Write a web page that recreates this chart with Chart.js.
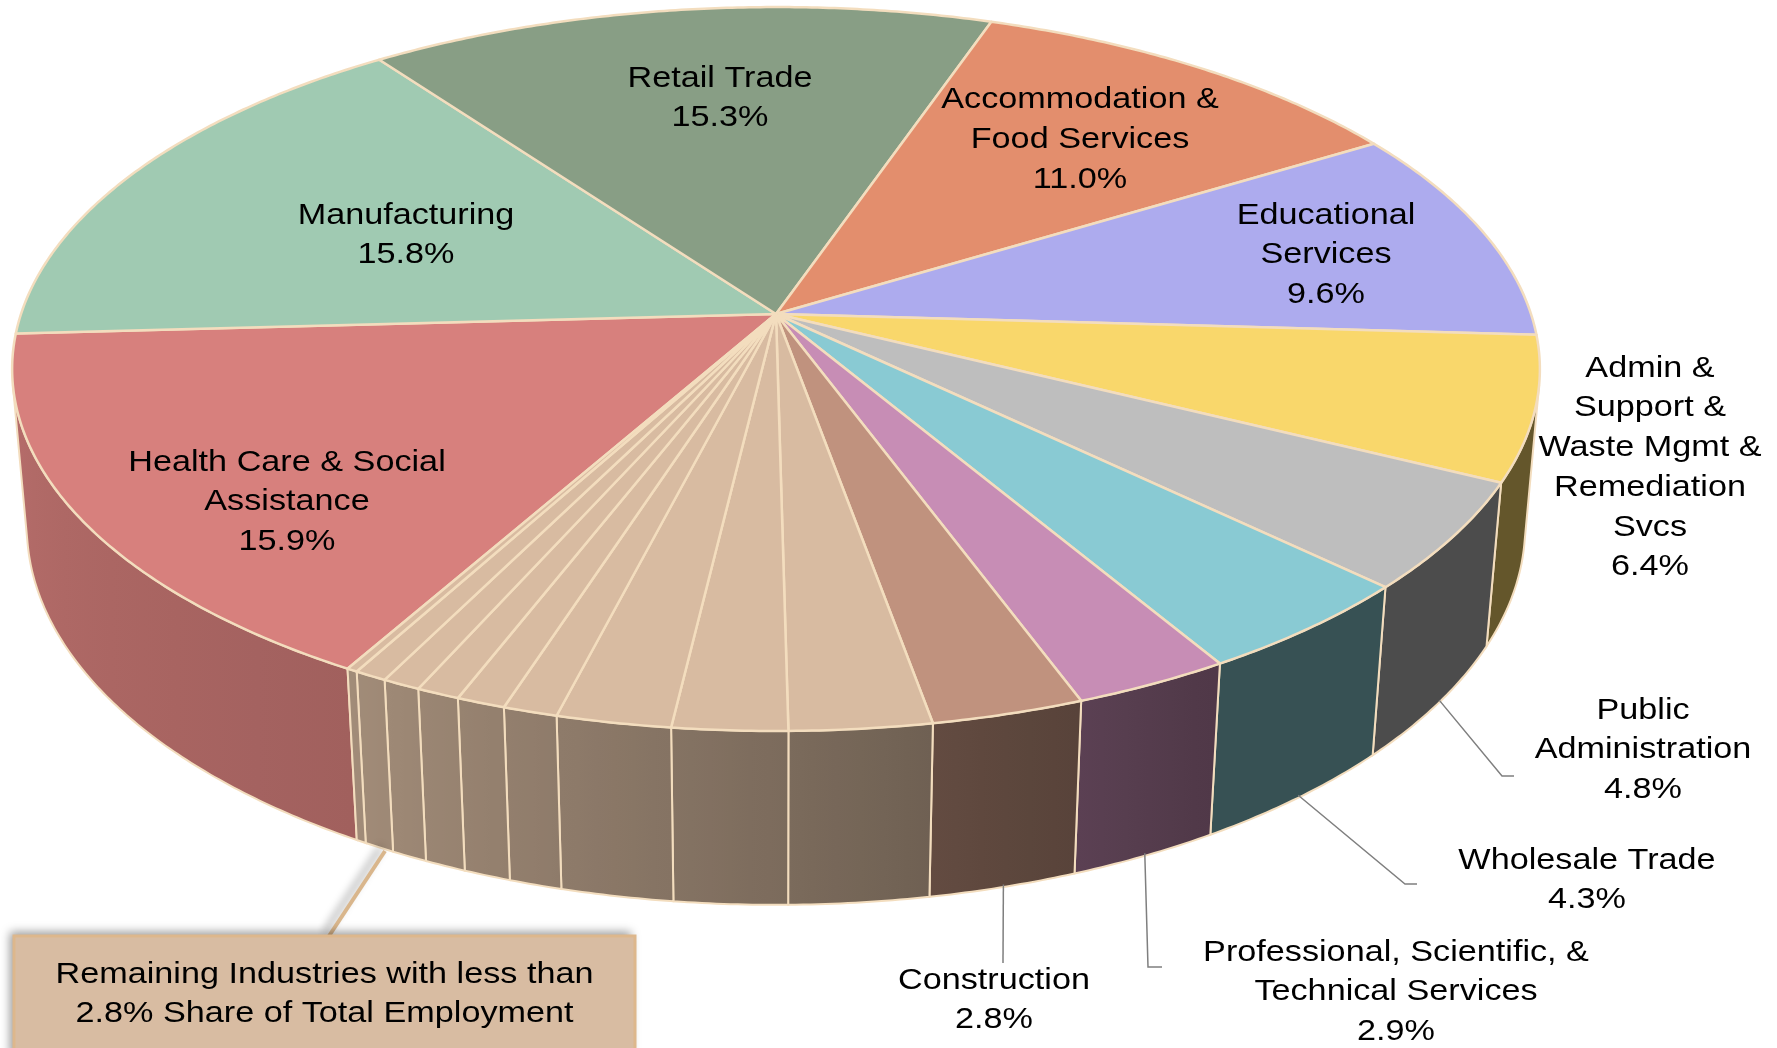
<!DOCTYPE html>
<html>
<head>
<meta charset="utf-8">
<title>Share of Total Employment by Industry</title>
<script src="https://cdn.jsdelivr.net/npm/chart.js@4.4.1/dist/chart.umd.min.js"></script>
<style>
  html, body { margin: 0; padding: 0; background: #ffffff; }
  #chart { display: block; }
</style>
</head>
<body>
<canvas id="chart" width="1777" height="1048"></canvas>
<script>
// Industries in drawing order (clockwise), share of total employment in %
const industries = [
    'Health Care & Social Assistance', 'Manufacturing', 'Retail Trade',
    'Accommodation & Food Services', 'Educational Services',
    'Admin & Support & Waste Mgmt & Remediation Svcs', 'Public Administration',
    'Wholesale Trade', 'Professional, Scientific, & Technical Services', 'Construction',
    'Other industry 1', 'Other industry 2', 'Other industry 3', 'Other industry 4',
    'Other industry 5', 'Other industry 6', 'Other industry 7', 'Other industry 8',
    'Other industry 9'
];
const shares = [15.9, 15.8, 15.3, 11.0, 9.6, 6.4, 4.8, 4.3, 2.9, 2.8,
    2.6, 2.1, 2.1, 1.0, 0.9, 0.8, 0.7, 0.6, 0.2];

// how the data labels are broken into lines (null = no label)
const labelLines = [
    ['Health Care & Social', 'Assistance'],
    ['Manufacturing'],
    ['Retail Trade'],
    ['Accommodation &', 'Food Services'],
    ['Educational', 'Services'],
    ['Admin &', 'Support &', 'Waste Mgmt &', 'Remediation', 'Svcs'],
    ['Public', 'Administration'],
    ['Wholesale Trade'],
    ['Professional, Scientific, &', 'Technical Services'],
    ['Construction'],
    null, null, null, null, null, null, null, null, null
];
const noteLines = ['Remaining Industries with less than', '2.8% Share of Total Employment'];

const sliceColors = ['#D7807D', '#A0CAB2', '#889E85', '#E38E6D', '#ADABEE', '#F9D76B',
    '#BEBEBE', '#89CAD3', '#C78DB5', '#C0927E',
    '#D8BBA1', '#D8BBA1', '#D8BBA1', '#D8BBA1', '#D8BBA1', '#D8BBA1', '#D8BBA1', '#D8BBA1', '#D8BBA1'];

// ---- layout / style ----
const view = { rx: 755, ry: 353.6, persp: 0.152, thick: 0.238 };
const SIN_A = view.ry / view.rx;
const COS_A = Math.sqrt(1 - SIN_A * SIN_A);
const TILT_K = view.persp * SIN_A / COS_A;
const VIS_FROM = Math.asin(view.persp / (COS_A * COS_A)); // side silhouette
const VIS_TO = Math.PI - VIS_FROM;
const STEP = Math.PI / 360;
const EDGE = '#F3DDBE';
const FONT = '30px "Liberation Sans", Arial, sans-serif';
const TEXT_STRETCH = 1.14;
const LINE_H = 39.7;

// label anchor (centre of first line), and leader line bends for outside labels
const labelPos = [
    { x: 287, y: 460 }, { x: 406, y: 213 }, { x: 720, y: 76 }, { x: 1080, y: 97.5 },
    { x: 1326, y: 213 }, { x: 1650, y: 366 }, { x: 1643, y: 708 }, { x: 1587, y: 858 },
    { x: 1396, y: 950 }, { x: 994, y: 978 }
];
const leaders = {
    6: [[1502, 776], [1514, 776]],
    7: [[1405, 884], [1417, 884]],
    8: [[1148, 967], [1162, 967]],
    9: [[1003, 963]]
};
const noteBox = { left: 14, top: 936, right: 635, bottom: 1060, textY: 972, lineFrom: [329, 936], lineTo: [385, 851] };

function project(c, ang, r, h) {
    const x = r * Math.cos(ang), z = r * Math.sin(ang);
    const den = 1 + h * TILT_K - view.persp * z;
    return {
        x: c.x + view.rx * x / den,
        y: c.y + (view.rx * COS_A * h + view.ry * z) / den
    };
}

function hexToRgb(hex) {
    const n = parseInt(hex.slice(1), 16);
    return [(n >> 16) & 255, (n >> 8) & 255, n & 255];
}

function shade(hex, f) {
    const [r, g, b] = hexToRgb(hex);
    return `rgb(${Math.round(r * f)}, ${Math.round(g * f)}, ${Math.round(b * f)})`;
}

// darker towards the right, lit from the left
function sideShade(ang) {
    let deg = (ang * 180 / Math.PI) % 360;
    if (deg < 0) deg += 360;
    if (deg < 60) return 0.40;
    if (deg < 120) return 0.40 + 0.35 * (deg - 60) / 60;
    return 0.75 + 0.11 * Math.min(1, (deg - 120) / 60);
}

function drawSide(ctx, c, a0, a1, color) {
    [-2 * Math.PI, 0, 2 * Math.PI].forEach(shift => {
        const s = Math.max(a0 + shift, VIS_FROM);
        const e = Math.min(a1 + shift, VIS_TO);
        if (e <= s) return;
        const n = Math.max(2, Math.ceil((e - s) / STEP));
        ctx.beginPath();
        for (let k = 0; k <= n; k++) {
            const p = project(c, s + (e - s) * k / n, 1, 0);
            if (k === 0) ctx.moveTo(p.x, p.y); else ctx.lineTo(p.x, p.y);
        }
        for (let k = n; k >= 0; k--) {
            const p = project(c, s + (e - s) * k / n, 1, view.thick);
            ctx.lineTo(p.x, p.y);
        }
        ctx.closePath();

        const x0 = project(c, s, 1, view.thick / 2).x;
        const x1 = project(c, e, 1, view.thick / 2).x;
        if (Math.abs(x1 - x0) < 1) {
            ctx.fillStyle = shade(color, sideShade((s + e) / 2));
        } else {
            const grad = ctx.createLinearGradient(x0, 0, x1, 0);
            for (let k = 0; k <= 6; k++) {
                const ang = s + (e - s) * k / 6;
                const px = project(c, ang, 1, view.thick / 2).x;
                const t = Math.min(1, Math.max(0, (px - x0) / (x1 - x0)));
                grad.addColorStop(t, shade(color, sideShade(ang)));
            }
            ctx.fillStyle = grad;
        }
        ctx.fill();
        ctx.strokeStyle = EDGE;
        ctx.lineWidth = 2;
        ctx.stroke();
    });
}

function drawTop(ctx, c, a0, a1, color) {
    const n = Math.max(2, Math.ceil((a1 - a0) / STEP));
    ctx.beginPath();
    ctx.moveTo(c.x, c.y);
    for (let k = 0; k <= n; k++) {
        const p = project(c, a0 + (a1 - a0) * k / n, 1, 0);
        ctx.lineTo(p.x, p.y);
    }
    ctx.closePath();
    ctx.fillStyle = color;
    ctx.fill();
    ctx.strokeStyle = EDGE;
    ctx.lineWidth = 2.5;
    ctx.lineJoin = 'round';
    ctx.stroke();
}

function drawTextLines(ctx, lines, x, y) {
    ctx.font = FONT;
    ctx.fillStyle = '#000000';
    ctx.textAlign = 'center';
    ctx.textBaseline = 'alphabetic';
    lines.forEach((line, i) => {
        ctx.save();
        ctx.translate(x, y + i * LINE_H + 10.7);
        ctx.scale(TEXT_STRETCH, 1);
        ctx.fillText(line, 0, 0);
        ctx.restore();
    });
}

const pie3d = {
    id: 'pie3d',
    beforeDatasetsDraw(chart) {
        const ctx = chart.ctx;
        const arcs = chart.getDatasetMeta(0).data;
        const c = { x: arcs[0].x, y: arcs[0].y };
        ctx.save();
        arcs.forEach((arc, i) => drawSide(ctx, c, arc.startAngle, arc.endAngle, sliceColors[i]));
        arcs.forEach((arc, i) => drawTop(ctx, c, arc.startAngle, arc.endAngle, sliceColors[i]));
        ctx.restore();
        return false;
    },
    afterDraw(chart) {
        const ctx = chart.ctx;
        const arcs = chart.getDatasetMeta(0).data;
        const c = { x: arcs[0].x, y: arcs[0].y };
        ctx.save();

        // leader lines for the labels outside the pie
        Object.keys(leaders).forEach(key => {
            const i = Number(key);
            const mid = (arcs[i].startAngle + arcs[i].endAngle) / 2;
            const start = project(c, mid, 1, view.thick * 0.985);
            ctx.beginPath();
            ctx.moveTo(start.x, start.y);
            leaders[i].forEach(p => ctx.lineTo(p[0], p[1]));
            ctx.strokeStyle = '#7F7F7F';
            ctx.lineWidth = 1.5;
            ctx.stroke();
        });

        // data labels
        labelLines.forEach((lines, i) => {
            if (!lines) return;
            const text = lines.concat([shares[i].toFixed(1) + '%']);
            drawTextLines(ctx, text, labelPos[i].x, labelPos[i].y);
        });

        // call-out for the remaining industries
        ctx.save();
        ctx.shadowColor = 'rgba(0, 0, 0, 0.4)';
        ctx.shadowBlur = 9;
        ctx.shadowOffsetX = -4;
        ctx.shadowOffsetY = -4;
        ctx.beginPath();
        ctx.moveTo(noteBox.lineFrom[0], noteBox.lineFrom[1]);
        ctx.lineTo(noteBox.lineTo[0], noteBox.lineTo[1]);
        ctx.strokeStyle = '#D9B68C';
        ctx.lineWidth = 4;
        ctx.stroke();
        ctx.fillStyle = '#D8BCA2';
        ctx.fillRect(noteBox.left, noteBox.top, noteBox.right - noteBox.left, noteBox.bottom - noteBox.top);
        ctx.restore();
        ctx.strokeStyle = '#DDB78C';
        ctx.lineWidth = 3;
        ctx.strokeRect(noteBox.left, noteBox.top, noteBox.right - noteBox.left, noteBox.bottom - noteBox.top);
        drawTextLines(ctx, noteLines, (noteBox.left + noteBox.right) / 2, noteBox.textY);

        ctx.restore();
    }
};

document.addEventListener('DOMContentLoaded', () => {
    const canvas = document.getElementById('chart');
    new Chart(canvas, {
        type: 'pie',
        data: {
            labels: industries,
            datasets: [{
                data: shares,
                backgroundColor: sliceColors,
                borderWidth: 0
            }]
        },
        options: {
            responsive: false,
            animation: false,
            rotation: 209.5,
            layout: { padding: { left: 0, right: 225, top: 0, bottom: 420 } },
            plugins: {
                legend: { display: false },
                tooltip: { enabled: false }
            }
        },
        plugins: [pie3d]
    });
});
</script>
</body>
</html>
